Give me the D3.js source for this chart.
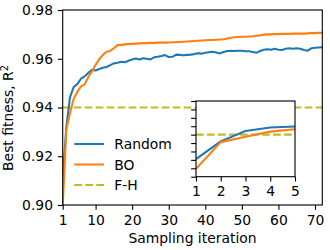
<!DOCTYPE html>
<html><head><meta charset="utf-8">
<script src="https://cdn.jsdelivr.net/npm/d3@7"></script>
<style>body{margin:0;background:#fff}svg{display:block}text{font-family:"DejaVu Sans",sans-serif}</style>
</head><body>
<svg id="c" width="330" height="250"></svg>
<script>
const iterations = d3.range(1, 73);
const randomVals = [0.9110,0.9320,0.9443,0.9484,0.9496,0.9518,0.9528,0.9542,0.9555,0.9552,
0.9558,0.9563,0.9566,0.9574,0.9581,0.9584,0.9588,0.9586,0.9592,0.9597,
0.9601,0.9597,0.9602,0.9600,0.9597,0.9606,0.9608,0.9611,0.9615,0.9607,
0.9608,0.9617,0.9616,0.9614,0.9616,0.9617,0.9619,0.9623,0.9621,0.9625,
0.9627,0.9629,0.9626,0.9622,0.9628,0.9632,0.9633,0.9632,0.9633,0.9633,
0.9631,0.9631,0.9628,0.9625,0.9632,0.9637,0.9639,0.9637,0.9641,0.9637,
0.9636,0.9641,0.9643,0.9641,0.9643,0.9641,0.9636,0.9633,0.9643,0.9645,
0.9646,0.9647];
const boVals = [0.8994,0.9311,0.9376,0.9436,0.9464,0.9487,0.9495,0.9525,0.9548,0.9575,
0.9598,0.9616,0.9629,0.9632,0.9643,0.9656,0.9657,0.9659,0.9660,0.9661,
0.9662,0.9663,0.9664,0.9664,0.9665,0.9665,0.9666,0.9666,0.9666,0.9667,
0.9668,0.9668,0.9669,0.9670,0.9671,0.9672,0.9673,0.9674,0.9675,0.9676,
0.9677,0.9677,0.9678,0.9679,0.9680,0.9683,0.9686,0.9688,0.9689,0.9690,
0.9690,0.9691,0.9692,0.9694,0.9696,0.9699,0.9700,0.9700,0.9701,0.9701,
0.9702,0.9702,0.9702,0.9703,0.9703,0.9703,0.9703,0.9704,0.9705,0.9705,
0.9706,0.9707];
const fhValue = 0.94;
const seriesNames = ["Random","BO","F-H"];
const colors = ["#1f77b4","#ff7f0e","#bcbd22"];
const xTicks = [1,10,20,30,40,50,60,70];
const yTicks = [0.90,0.92,0.94,0.96,0.98];
const insetXTicks = [1,2,3,4,5];
const insetYTicks = [0.89,0.90,0.91,0.92,0.93,0.94,0.95,0.96,0.97,0.98];

const svg = d3.select("#c");
const FS = 13.9, TL = 4.86, PAD = 4.86, SW = 1.11, LW = 2.08;
const dash = "7.7,3.3";

const M = {l:62.7, r:322.3, t:10, b:205};
const x = d3.scaleLinear().domain([1,72]).range([M.l, M.r]);
const y = d3.scaleLinear().domain([0.90,0.98]).range([M.b, M.t]);

svg.append("defs").append("clipPath").attr("id","mc").append("rect")
  .attr("x",M.l).attr("y",M.t).attr("width",M.r-M.l).attr("height",M.b-M.t);

const series = [randomVals, boVals];
const gMain = svg.append("g").attr("clip-path","url(#mc)");
gMain.append("line").attr("x1",M.l).attr("x2",M.r).attr("y1",y(fhValue)).attr("y2",y(fhValue))
  .attr("stroke",colors[2]).attr("stroke-width",LW).attr("stroke-dasharray",dash);
series.forEach((s,i)=>{
  gMain.append("path").datum(s.map((v,j)=>[iterations[j],v]))
    .attr("fill","none").attr("stroke",colors[i]).attr("stroke-width",LW).attr("stroke-linejoin","round")
    .attr("d", d3.line().x(d=>x(d[0])).y(d=>y(d[1])));
});

// axes
function styleAxis(g){
  g.select(".domain").remove();
  g.selectAll(".tick line").attr("stroke","#000").attr("stroke-width",SW);
  g.selectAll(".tick text").attr("font-size",FS).attr("fill","#000").attr("font-family","DejaVu Sans");
}
const gx = svg.append("g").attr("transform",`translate(0,${M.b})`)
  .call(d3.axisBottom(x).tickValues(xTicks).tickSize(TL).tickPadding(PAD).tickFormat(d3.format("d")));
styleAxis(gx);
const gy = svg.append("g").attr("transform",`translate(${M.l},0)`)
  .call(d3.axisLeft(y).tickValues(yTicks).tickSize(TL).tickPadding(PAD).tickFormat(d3.format(".2f")));
styleAxis(gy);
svg.append("rect").attr("x",M.l).attr("y",M.t).attr("width",M.r-M.l).attr("height",M.b-M.t)
  .attr("fill","none").attr("stroke","#000").attr("stroke-width",SW);

svg.append("text").attr("x",(M.l+M.r)/2).attr("y",243).attr("text-anchor","middle")
  .attr("font-size",FS).text("Sampling iteration");
const yl = svg.append("text").attr("transform","translate(13,118) rotate(-90)").attr("text-anchor","middle")
  .attr("font-size",FS);
yl.append("tspan").text("Best fitness, R");
yl.append("tspan").attr("font-size",FS*0.7).attr("dy",-5).text("2");

// legend
const lg = svg.append("g");
seriesNames.forEach((n,i)=>{
  const yy = 144 + i*20.5;
  lg.append("line").attr("x1",74.3).attr("x2",104).attr("y1",yy).attr("y2",yy)
    .attr("stroke",colors[i]).attr("stroke-width",LW).attr("stroke-dasharray", i==2?dash:null);
  lg.append("text").attr("x",114.3).attr("y",yy+5).attr("font-size",FS).text(n);
});

// inset
const I = {l:196, r:295, t:101, b:176.7};
const ix = d3.scaleLinear().domain([1,5]).range([I.l, I.r]);
const iy = d3.scaleLinear().domain([0.89,0.98]).range([I.b, I.t]);
svg.append("rect").attr("x",I.l).attr("y",I.t).attr("width",I.r-I.l).attr("height",I.b-I.t).attr("fill","#fff");
svg.append("defs").append("clipPath").attr("id","ic").append("rect")
  .attr("x",I.l).attr("y",I.t).attr("width",I.r-I.l).attr("height",I.b-I.t);
const gIn = svg.append("g").attr("clip-path","url(#ic)");
gIn.append("line").attr("x1",I.l).attr("x2",I.r).attr("y1",iy(fhValue)).attr("y2",iy(fhValue))
  .attr("stroke",colors[2]).attr("stroke-width",LW).attr("stroke-dasharray",dash);
series.forEach((s,i)=>{
  gIn.append("path").datum(s.slice(0,5).map((v,j)=>[iterations[j],v]))
    .attr("fill","none").attr("stroke",colors[i]).attr("stroke-width",LW).attr("stroke-linejoin","round")
    .attr("d", d3.line().x(d=>ix(d[0])).y(d=>iy(d[1])));
});
const igx = svg.append("g").attr("transform",`translate(0,${I.b})`)
  .call(d3.axisBottom(ix).tickValues(insetXTicks).tickSize(TL).tickPadding(PAD).tickFormat(d3.format("d")));
styleAxis(igx);
const igy = svg.append("g").attr("transform",`translate(${I.l},0)`)
  .call(d3.axisLeft(iy).tickValues(insetYTicks).tickSize(TL).tickFormat(""));
styleAxis(igy);
svg.append("rect").attr("x",I.l).attr("y",I.t).attr("width",I.r-I.l).attr("height",I.b-I.t)
  .attr("fill","none").attr("stroke","#000").attr("stroke-width",SW);
</script>
</body></html>
